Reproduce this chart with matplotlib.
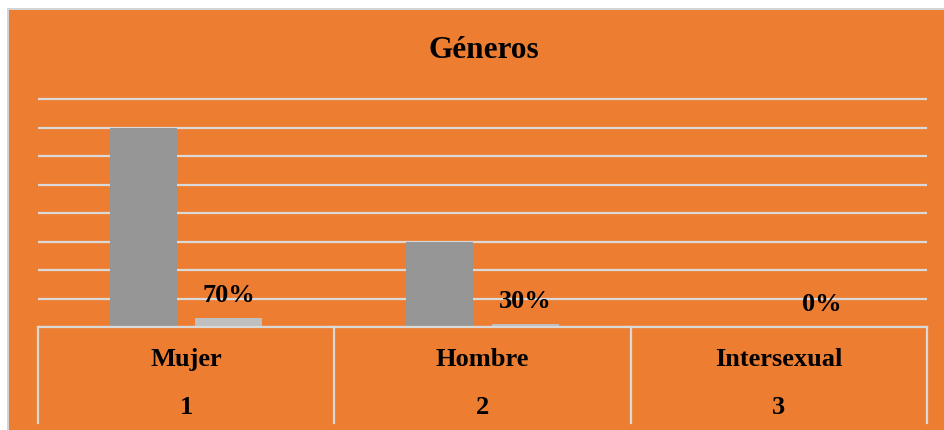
import matplotlib
matplotlib.use("Agg")
import matplotlib.pyplot as plt
from matplotlib.patches import Rectangle
import numpy as np

# data
categories = ["Mujer", "Hombre", "Intersexual"]
codes = ["1", "2", "3"]
counts = [7, 3, 0]
pct_bar_heights = [0.30, 0.10, 0.0]
pct_labels = ["70%", "30%", "0%"]

ORANGE = "#ED7D31"
GRID = "#D9D9D9"
DARK = "#969696"
LIGHT = "#BFBFBF"
FONT = "Liberation Serif"

W, H = 944, 431
fig = plt.figure(figsize=(W / 100, H / 100), dpi=100, facecolor="white")

# orange chart area with thin grey frame (top/left)
for rect, col in [
    ((7 / W, 0, 2 / W, 1 - 9 / H), "#D4D4D4"),
    ((7 / W, 1 - 11 / H, 1 - 7 / W, 2 / H), "#D4D4D4"),
    ((9 / W, 0, 1 - 9 / W, 1 - 11 / H), ORANGE),
]:
    x0, y0, w, h = rect
    fig.patches.append(Rectangle((x0, y0), w, h, transform=fig.transFigure,
                                 facecolor=col, edgecolor="none", zorder=-5))

unit = 228 / 8  # px per data unit
ymax = 8.1
left, right = 38 / W, 927 / W
bottom, top = (H - 328) / H, (H - 328 + ymax * unit) / H
ax = fig.add_axes([left, bottom, right - left, top - bottom])
ax.set_zorder(1)
ax.set_facecolor("none")
ax.set_xlim(-0.5, 2.5)
ax.set_ylim(0, ymax)
for s in ax.spines.values():
    s.set_visible(False)
ax.set_xticks([])
ax.set_yticks(range(0, 9))
ax.tick_params(left=False, labelleft=False)
ax.grid(axis="y", color=GRID, linewidth=1.6)
ax.set_axisbelow(True)

x = np.arange(len(categories))
off, bw = 0.144, 0.227
ax.bar(x - off, counts, width=bw, color=DARK, zorder=2)
ax.bar(x + off, pct_bar_heights, width=bw, color=LIGHT, zorder=2)

for xi, h, lab in zip(x, pct_bar_heights, pct_labels):
    ax.annotate(lab, (xi + off, h), xytext=(0, 17), textcoords="offset points",
                ha="center", va="center", fontsize=19, fontweight="bold",
                family=FONT, color="black", zorder=3)

# category table under the axis
y_end = -(424 - 328) / unit
ax.plot([-0.5, 2.5], [0, 0], color=GRID, linewidth=1.6, clip_on=False, zorder=3)
for xv in [-0.5, 0.5, 1.5, 2.5]:
    ax.plot([xv, xv], [0, y_end], color=GRID, linewidth=1.6, clip_on=False, zorder=3)
for xi, cat, code in zip(x, categories, codes):
    ax.text(xi, -(360 - 328) / unit, cat, ha="center", va="center", fontsize=19,
            fontweight="bold", family=FONT, clip_on=False)
    ax.text(xi, -(408 - 328) / unit, code, ha="center", va="center", fontsize=19,
            fontweight="bold", family=FONT, clip_on=False)

fig.text(484 / W, 1 - 51 / H, "Géneros", ha="center", va="center", fontsize=22.5,
         fontweight="bold", family=FONT)

fig.savefig("out.png", dpi=100, facecolor=fig.get_facecolor())
